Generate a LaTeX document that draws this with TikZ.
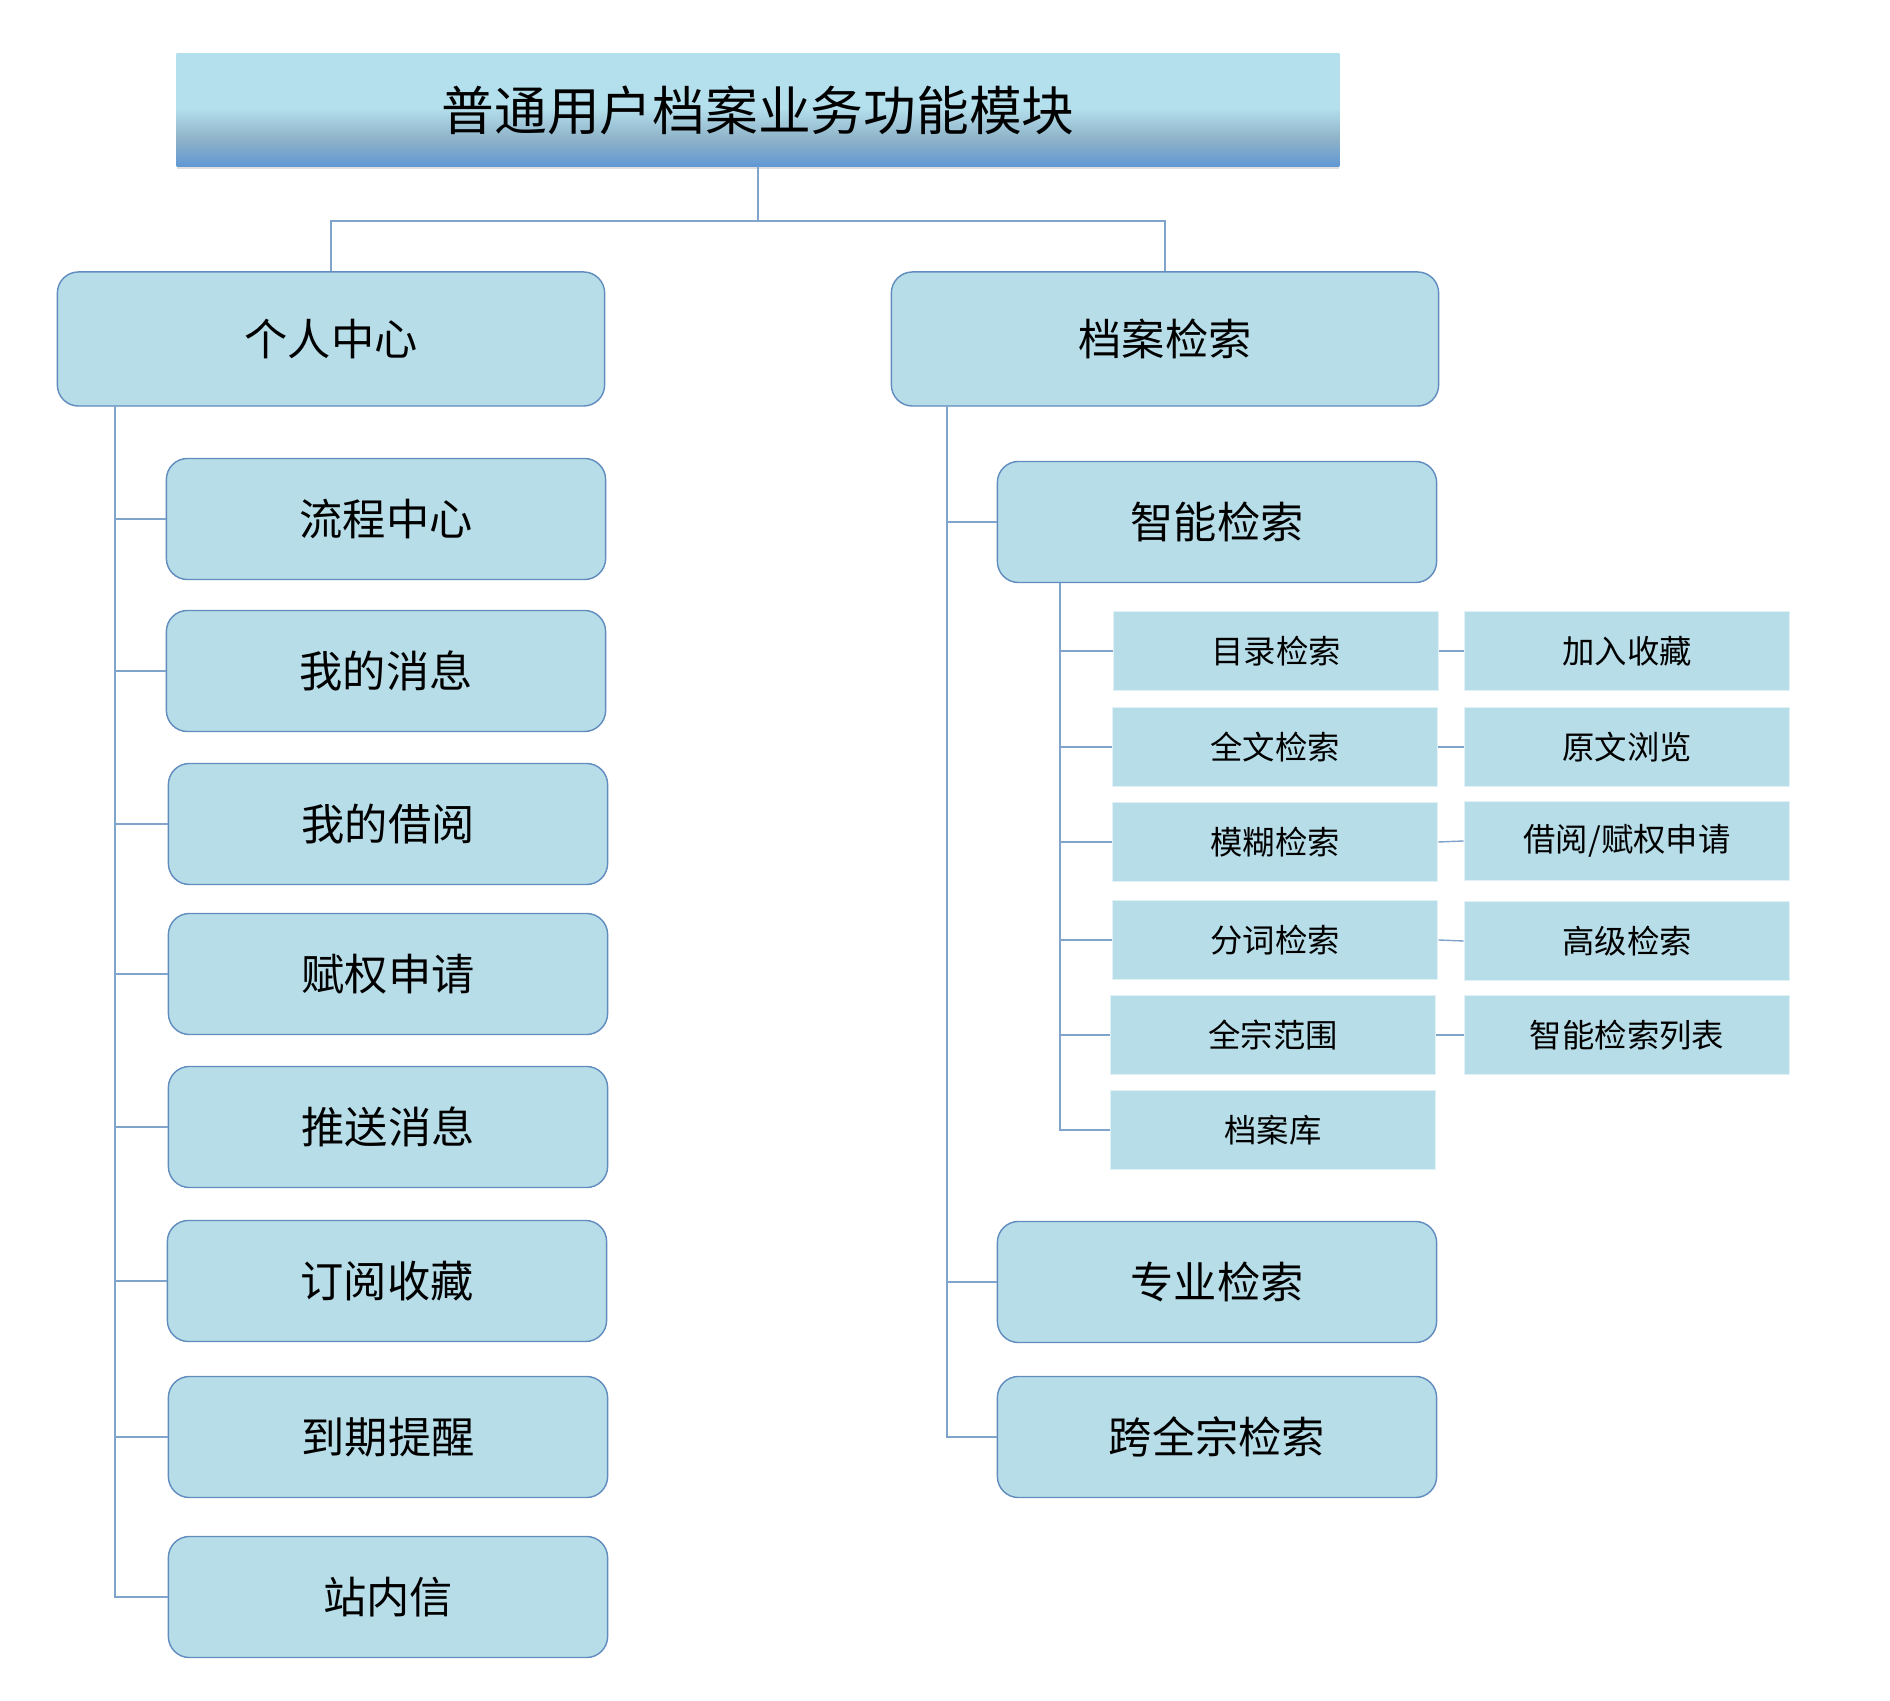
\documentclass[tikz,border=0pt]{standalone}
\usepackage{fontspec}
\newfontfamily\cjk{Noto Sans CJK SC}
\usetikzlibrary{positioning, calc, shadows}
\definecolor{boxfill}{RGB}{183, 221, 232}
\definecolor{boxline}{RGB}{96, 140, 190}
\definecolor{linkline}{RGB}{128, 164, 204}
\definecolor{titletop}{RGB}{180, 223, 236}
\definecolor{titlemid}{RGB}{142, 178, 200}
\definecolor{titlebot}{RGB}{96, 152, 212}
\pgfdeclareverticalshading{titleshade}{100bp}{%
  color(0bp)=(titlebot); color(25bp)=(titlebot); color(37bp)=(titlemid);
  color(51bp)=(titletop); color(100bp)=(titletop)}

\begin{document}
\begin{tikzpicture}[
  x=0.01cm,
  y=-0.01cm,
  every node/.style={inner sep=2pt},
  titlebox/.style={shading=titleshade, minimum width=11.62cm, minimum height=1.13cm,
    drop shadow={shadow xshift=0pt, shadow yshift=-0.8pt, opacity=0.25},
    font=\cjk\fontsize{15}{18}\selectfont},
  mainbox/.style={draw=boxline, fill=boxfill, rounded corners=6pt, line width=0.4pt,
    minimum width=5.47cm, minimum height=1.34cm, font=\cjk\fontsize{12.3}{15}\selectfont},
  itembox/.style={mainbox, minimum width=4.39cm, minimum height=1.21cm},
  subbox/.style={fill=boxfill, draw=boxfill!40!white, line width=0.5pt,
    minimum width=3.25cm, minimum height=0.79cm, font=\cjk\fontsize{9.2}{11}\selectfont},
  link/.style={draw=linkline, line width=0.4pt}
]

\path[use as bounding box, fill=white] (0,0) rectangle (1890,1701);

% top level
\node[titlebox] (title) at (758, 110) {普通用户档案业务功能模块};

\node[mainbox] (center)  at (331, 339)  {个人中心};
\node[mainbox] (archive) at (1165, 339) {档案检索};

\coordinate (split) at (758, 221);
\draw[link] (title.south) -- (split);
\draw[link] (split) -| (center.north);
\draw[link] (split) -| (archive.north);

% personal center
\node[itembox] (flow)   at (386, 519)  {流程中心};
\node[itembox] (msg)    at (386, 671)  {我的消息};
\node[itembox] (borrow) at (388, 824)  {我的借阅};
\node[itembox] (grant)  at (388, 974)  {赋权申请};
\node[itembox] (push)   at (388, 1127) {推送消息};
\node[itembox] (subs)   at (387, 1281) {订阅收藏};
\node[itembox] (due)    at (388, 1437) {到期提醒};
\node[itembox] (inbox)  at (388, 1597) {站内信};

\coordinate (ltop) at (115, 406);
\draw[link] (ltop) |- (inbox.west);
\foreach \n in {flow, msg, borrow, grant, push, subs, due}
  \draw[link] (ltop |- \n.west) -- (\n.west);

% archive search
\node[itembox] (smart) at (1217, 522)  {智能检索};
\node[itembox] (pro)   at (1217, 1282) {专业检索};
\node[itembox] (cross) at (1217, 1437) {跨全宗检索};

\coordinate (rtop) at (947, 406);
\draw[link] (rtop) |- (cross.west);
\foreach \n in {smart, pro}
  \draw[link] (rtop |- \n.west) -- (\n.west);

% smart search items
\node[subbox] (catalog) at (1276, 651)  {目录检索};
\node[subbox] (fulltxt) at (1275, 747)  {全文检索};
\node[subbox] (fuzzy)   at (1275, 842)  {模糊检索};
\node[subbox] (words)   at (1275, 940)  {分词检索};
\node[subbox] (fonds)   at (1273, 1035) {全宗范围};
\node[subbox] (library) at (1273, 1130) {档案库};

\node[subbox] (fav)     at (1627, 651)  {加入收藏};
\node[subbox] (view)    at (1627, 747)  {原文浏览};
\node[subbox] (apply)   at (1627, 841)  {借阅/赋权申请};
\node[subbox] (adv)     at (1627, 941)  {高级检索};
\node[subbox] (list)    at (1627, 1035) {智能检索列表};

\coordinate (stop) at (1060, 583);
\draw[link] (stop) |- (library.west);
\foreach \n in {catalog, fulltxt, fuzzy, words, fonds}
  \draw[link] (stop |- \n.west) -- (\n.west);

\draw[link] (catalog.east) -- (fav.west);
\draw[link] (fulltxt.east) -- (view.west);
\draw[link] (fuzzy.east)   -- (apply.west);
\draw[link] (words.east)   -- (adv.west);
\draw[link] (fonds.east)   -- (list.west);

\end{tikzpicture}
\end{document}
